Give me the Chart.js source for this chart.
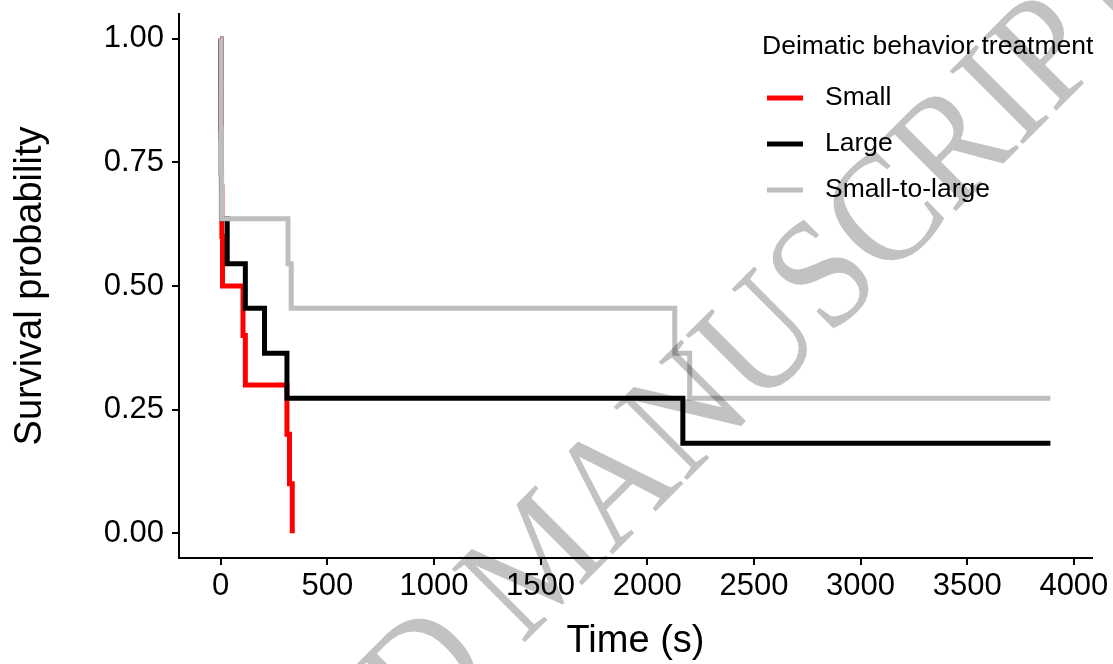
<!DOCTYPE html>
<html>
<head>
<meta charset="utf-8">
<script src="https://cdn.jsdelivr.net/npm/chart.js@4"></script>
<style>
html, body { margin: 0; padding: 0; background: #fff; }
</style>
</head>
<body>
<canvas id="km-chart" width="1113" height="664"></canvas>
<script>
// survival curves (time in s, survival probability)
let smallTimes = [0, 2, 3, 4, 6, 9, 105, 116, 311, 323, 336]
let smallSurv  = [1.0, 0.9, 0.8, 0.7, 0.6, 0.5, 0.4, 0.3, 0.2, 0.1, 0.0]

let largeTimes = [0, 1, 2, 3, 4, 31, 116, 206, 311, 2167, 3890]
let largeSurv  = [1.0, 0.909, 0.818, 0.727, 0.636, 0.545, 0.455, 0.364, 0.273, 0.182, 0.182]

let s2lTimes = [0, 2, 3, 4, 5, 316, 331, 2129, 2199, 3890]
let s2lSurv  = [1.0, 0.909, 0.818, 0.727, 0.636, 0.545, 0.455, 0.364, 0.273, 0.273]

let groupNames = ['Small', 'Large', 'Small-to-large']
let groupColors = ['#ff0000', '#000000', '#bebebe']

let xTicks = [0, 500, 1000, 1500, 2000, 2500, 3000, 3500, 4000]
let yTicks = [0, 0.25, 0.5, 0.75, 1.0]

let legendTitle = 'Deimatic behavior treatment'
let watermark = ['ACCEPTED ', 'MANUSCRIPT']

let sansFont = "'Liberation Sans', Arial, sans-serif"

function toPoints(times, surv) {
    let pts = []
    for (let i = 0; i < times.length; i++) {
        pts.push({x: times[i], y: surv[i]})
    }
    return pts
}

let allSeries = [toPoints(smallTimes, smallSurv), toPoints(largeTimes, largeSurv), toPoints(s2lTimes, s2lSurv)]

// red at the bottom, grey on top
let datasets = []
for (let i = 0; i < allSeries.length; i++) {
    datasets.push({
        label: groupNames[i],
        data: allSeries[i],
        borderColor: groupColors[i],
        backgroundColor: groupColors[i],
        borderWidth: 5,
        pointRadius: 0,
        stepped: 'before',
        fill: false,
        order: allSeries.length - i
    })
}

// legend sits inside the plot, top right, like ggplot
let legendPlugin = {
    id: 'kmLegend',
    afterDatasetsDraw(chart) {
        let ctx = chart.ctx
        ctx.save()
        ctx.fillStyle = '#000'
        ctx.textBaseline = 'middle'
        ctx.textAlign = 'left'
        ctx.font = '26.5px ' + sansFont
        ctx.fillText(legendTitle, 762, 47)
        let rows = [98, 144, 190]
        for (let i = 0; i < groupNames.length; i++) {
            ctx.strokeStyle = groupColors[i]
            ctx.lineWidth = 5
            ctx.beginPath()
            ctx.moveTo(767, rows[i])
            ctx.lineTo(803, rows[i])
            ctx.stroke()
            ctx.fillStyle = '#000'
            ctx.fillText(groupNames[i], 825, rows[i])
        }
        ctx.restore()
    }
}

// grey "accepted manuscript" stamp across the plot
let watermarkPlugin = {
    id: 'watermark',
    afterDraw(chart) {
        let ctx = chart.ctx
        ctx.save()
        ctx.globalCompositeOperation = 'multiply'
        ctx.fillStyle = '#c2c2c2'
        ctx.font = "158px 'Liberation Serif', 'Times New Roman', serif"
        ctx.textBaseline = 'alphabetic'
        ctx.translate(522, 645)
        ctx.rotate(-45 * Math.PI / 180)
        ctx.scale(0.9, 1)
        ctx.textAlign = 'right'
        ctx.fillText(watermark[0], 0, 0)
        ctx.textAlign = 'left'
        ctx.fillText(watermark[1], 0, 0)
        ctx.restore()
    }
}

let ctx = document.querySelector('#km-chart').getContext('2d')

let chart = new Chart(ctx, {
    type: 'line',
    data: {datasets: datasets},
    options: {
        responsive: false,
        animation: false,
        events: [],
        layout: {padding: {top: 14, right: 21, left: 0, bottom: 0}},
        plugins: {
            legend: {display: false},
            tooltip: {enabled: false}
        },
        scales: {
            x: {
                type: 'linear',
                min: -195,
                max: 4085,
                afterBuildTicks: function(scale) {
                    scale.ticks = xTicks.map(v => ({value: v}))
                },
                afterFit: function(scale) {
                    scale.height = 106
                    scale.paddingLeft = 0
                    scale.paddingRight = 0
                },
                grid: {drawOnChartArea: false, drawTicks: true, tickLength: 7, color: '#000', lineWidth: 2},
                border: {display: true, color: '#000', width: 2},
                ticks: {
                    padding: 3,
                    color: '#000',
                    maxRotation: 0,
                    font: {family: sansFont, size: 31},
                    callback: v => String(v)
                },
                title: {
                    display: true,
                    text: 'Time (s)',
                    color: '#000',
                    font: {family: sansFont, size: 38},
                    padding: {top: 0, bottom: 0}
                }
            },
            y: {
                type: 'linear',
                min: -0.05,
                max: 1.05,
                afterBuildTicks: function(scale) {
                    scale.ticks = yTicks.map(v => ({value: v}))
                },
                afterFit: function(scale) {
                    scale.width = 179
                    scale.paddingTop = 0
                    scale.paddingBottom = 0
                },
                grid: {drawOnChartArea: false, drawTicks: true, tickLength: 7, color: '#000', lineWidth: 2},
                border: {display: true, color: '#000', width: 2},
                ticks: {
                    padding: 8,
                    color: '#000',
                    font: {family: sansFont, size: 31},
                    callback: v => v.toFixed(2)
                },
                title: {
                    display: true,
                    text: 'Survival probability',
                    color: '#000',
                    font: {family: sansFont, size: 38},
                    padding: {top: 8, bottom: 0}
                }
            }
        }
    },
    plugins: [legendPlugin, watermarkPlugin]
})
</script>
</body>
</html>
